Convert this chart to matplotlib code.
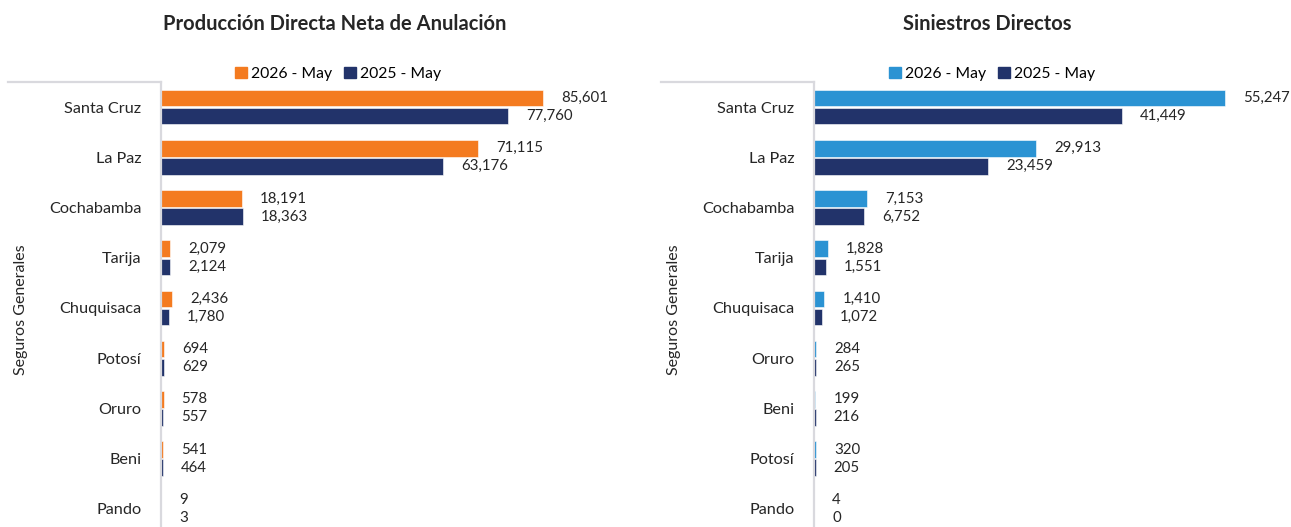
import numpy as np
import matplotlib
matplotlib.use("Agg")
import matplotlib.pyplot as plt
from matplotlib.lines import Line2D
from matplotlib.patches import Patch

plt.rcParams['font.family'] = ['Lato', 'DejaVu Sans']

# data
prod_cats = ["Santa Cruz", "La Paz", "Cochabamba", "Tarija", "Chuquisaca",
             "Potosí", "Oruro", "Beni", "Pando"]
prod_2026 = [85601, 71115, 18191, 2079, 2436, 694, 578, 541, 9]
prod_2025 = [77760, 63176, 18363, 2124, 1780, 629, 557, 464, 3]

sin_cats = ["Santa Cruz", "La Paz", "Cochabamba", "Tarija", "Chuquisaca",
            "Oruro", "Beni", "Potosí", "Pando"]
sin_2026 = [55247, 29913, 7153, 1828, 1410, 284, 199, 320, 4]
sin_2025 = [41449, 23459, 6752, 1551, 1072, 265, 216, 205, 0]

series_names = ["2026 - May", "2025 - May"]

navy = "#22336A"
orange = "#F47B20"
blue = "#2B93D3"
grey = "#D9D9DE"
text_col = "#262626"

W, H = 1291, 527
fig = plt.figure(figsize=(W / 100, H / 100), dpi=100)


def px_axes(x0, x1, y0, y1):
    return fig.add_axes([x0 / W, 1 - y1 / H, (x1 - x0) / W, (y1 - y0) / H])


def panel(ax, cats, v26, v25, col26, xmax, title, title_x, leg_x, line_x0, ylab_x):
    n = len(cats)
    y = np.arange(n)
    ax.barh(y - 0.18, v26, height=0.33, color=col26, edgecolor="white", linewidth=0.4)
    ax.barh(y + 0.18, v25, height=0.33, color=navy, edgecolor="white", linewidth=0.4)
    for yi, a, b in zip(y, v26, v25):
        ax.annotate(f"{a:,}", (a, yi - 0.18), xytext=(13, 0), textcoords="offset points",
                    va="center", ha="left", fontsize=10.8, color=text_col, annotation_clip=False)
        ax.annotate(f"{b:,}", (b, yi + 0.18), xytext=(13, 0), textcoords="offset points",
                    va="center", ha="left", fontsize=10.8, color=text_col, annotation_clip=False)
    ax.set_ylim(n - 0.5, -0.5)
    ax.set_xlim(0, xmax)
    ax.set_yticks(y)
    ax.set_yticklabels(cats, fontsize=11.7, color=text_col)
    ax.tick_params(axis="y", length=0, pad=14)
    ax.set_xticks([])
    for s in ["top", "right", "bottom"]:
        ax.spines[s].set_visible(False)
    ax.spines["left"].set_color(grey)
    ax.spines["left"].set_linewidth(1.6)
    ax.patch.set_alpha(0)

    # group bracket line at top
    fig.add_artist(Line2D([line_x0 / W, ax.get_position().x0], [1 - 82 / H, 1 - 82 / H],
                          color=grey, linewidth=1.6))
    fig.text(ylab_x / W, 1 - 310 / H, "Seguros Generales", rotation=90,
             ha="center", va="center", fontsize=11.5, color=text_col)
    fig.text(title_x / W, 1 - 24 / H, title, ha="center", va="center",
             fontsize=14.5, fontweight="bold", color=text_col)
    handles = [Patch(color=col26), Patch(color=navy)]
    fig.legend(handles, series_names, loc="center", bbox_to_anchor=(leg_x / W, 1 - 74 / H),
               ncol=2, frameon=False, fontsize=11.3, handlelength=0.75, handleheight=0.75,
               handletextpad=0.25, columnspacing=0.8, borderpad=0)


ax1 = px_axes(161, 607, 82, 534)
panel(ax1, prod_cats, prod_2026, prod_2025, orange, 100000,
      "Producción Directa Neta de Anulación", 335, 338, 8, 21)

ax2 = px_axes(814, 1275, 82, 534)
panel(ax2, sin_cats, sin_2026, sin_2025, blue, 62000,
      "Siniestros Directos", 987, 992, 661, 674)

fig.savefig("out.png", dpi=100)
